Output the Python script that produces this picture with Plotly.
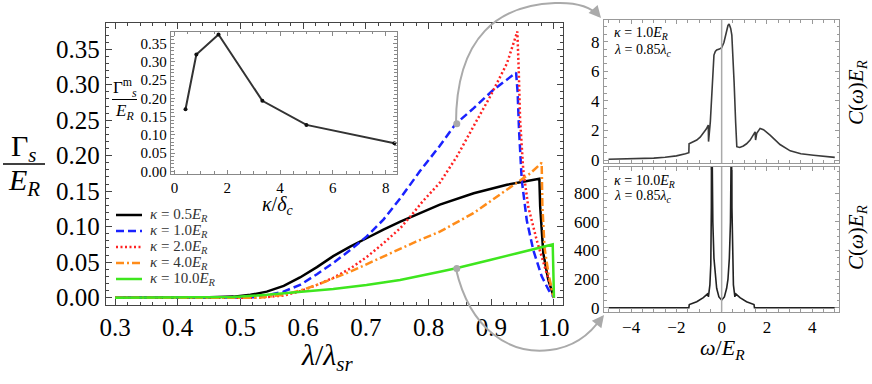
import plotly.graph_objects as go

W, H = 872, 384
SERIF = "Liberation Serif"

# main panel: Gamma_s / E_R against lambda / lambda_sr
lam_k05 = [0.30, 0.40, 0.45, 0.489, 0.516, 0.542, 0.569, 0.595, 0.622, 0.648, 0.675, 0.701, 0.728,
           0.755, 0.787, 0.818, 0.872, 0.925, 0.9767, 0.978, 0.983, 0.991, 1.0]
gam_k05 = [0.0, 0.0, 0.0005, 0.0015, 0.004, 0.0085, 0.0165, 0.0285, 0.043, 0.0585, 0.072, 0.0837, 0.096,
           0.107, 0.119, 0.131, 0.147, 0.159, 0.1676, 0.128, 0.0625, 0.025, 0.0]

lam_k1 = [0.30, 0.50, 0.526, 0.5685, 0.595, 0.622, 0.648, 0.675, 0.701, 0.728, 0.755, 0.786, 0.818,
          0.843, 0.872, 0.903, 0.9396, 0.942, 0.9443, 0.9486, 0.9566, 0.967, 0.9805, 0.992, 1.0]
gam_k1 = [0.0, 0.0, 0.0005, 0.0085, 0.018, 0.033, 0.049, 0.067, 0.086, 0.11, 0.14, 0.178, 0.214,
          0.2446, 0.267, 0.2925, 0.317, 0.29, 0.236, 0.166, 0.109, 0.067, 0.030, 0.010, 0.0]

lam_k2 = [0.30, 0.53, 0.5685, 0.595, 0.622, 0.648, 0.675, 0.701, 0.728, 0.755, 0.773, 0.79, 0.818,
          0.845, 0.8715, 0.898, 0.925, 0.9416, 0.9438, 0.946, 0.951, 0.959, 0.9725, 0.9885, 1.0]
gam_k2 = [0.0, 0.0, 0.003, 0.009, 0.018, 0.028, 0.041, 0.057, 0.0766, 0.098, 0.1165, 0.135, 0.162,
          0.1986, 0.241, 0.283, 0.330, 0.375, 0.321, 0.25, 0.18, 0.128, 0.081, 0.034, 0.0]

lam_k4 = [0.30, 0.53, 0.5685, 0.595, 0.622, 0.648, 0.675, 0.701, 0.728, 0.755, 0.78, 0.818, 0.8715,
          0.9247, 0.962, 0.9804, 0.9815, 0.985, 0.992, 1.0]
gam_k4 = [0.0, 0.0, 0.004, 0.010, 0.018, 0.027, 0.0366, 0.047, 0.058, 0.069, 0.079, 0.093, 0.119,
          0.152, 0.175, 0.190, 0.13, 0.07, 0.03, 0.0]

lam_k10 = [0.30, 0.45, 0.489, 0.542, 0.595, 0.648, 0.701, 0.7545, 0.818, 0.844, 0.898, 0.951, 0.998, 1.0]
gam_k10 = [0.0, 0.0, 0.001, 0.004, 0.008, 0.0122, 0.018, 0.025, 0.0366, 0.0414, 0.053, 0.065, 0.075, 0.0]

series_names = ["<i>κ</i> = 0.5<i>E<sub>R</sub></i>", "<i>κ</i> = 1.0<i>E<sub>R</sub></i>",
                "<i>κ</i> = 2.0<i>E<sub>R</sub></i>", "<i>κ</i> = 4.0<i>E<sub>R</sub></i>",
                "<i>κ</i> = 10.0<i>E<sub>R</sub></i>"]
series_x = [lam_k05, lam_k1, lam_k2, lam_k4, lam_k10]
series_y = [gam_k05, gam_k1, gam_k2, gam_k4, gam_k10]
colors = ["#000000", "#1a22ff", "#ff2222", "#ff8c1a", "#3ee61e"]
dashes = ["solid", "8px,4px", "2px,2.5px", "8px,3px,2px,3px", "solid"]

# points where the spectra on the right are taken (lambda = 0.85)
mark_lam = [0.845, 0.845]
mark_gam = [0.245, 0.041]

# inset: maximum rate against kappa / delta_c
kap_delta = [0.42, 0.83, 1.67, 3.33, 5.0, 8.33]
gam_max = [0.170, 0.320, 0.375, 0.193, 0.127, 0.077]

# right panels: C(omega) E_R
om_top = [-5.0, -4.0, -3.0, -2.5, -2.0, -1.6, -1.45, -1.44, -1.3, -1.1, -0.95, -0.81, -0.68, -0.59,
          -0.58, -0.50, -0.44, -0.38, -0.34, -0.28, -0.22, -0.1, 0.0, 0.1, 0.2, 0.28, 0.33, 0.4, 0.45,
          0.5, 0.55, 0.62, 0.67, 0.8, 0.96, 1.1, 1.26, 1.40, 1.48, 1.50, 1.55, 1.70, 1.85, 2.14, 2.58,
          3.03, 3.5, 4.06, 4.5, 5.0]
c_top = [0.05, 0.08, 0.13, 0.19, 0.28, 0.42, 0.5, 1.1, 1.2, 1.35, 1.55, 1.8, 2.1, 2.37,
         1.25, 2.6, 4.17, 6.0, 7.1, 7.35, 7.44, 7.5, 7.6, 7.95, 8.6, 9.1, 9.2, 8.9, 8.45,
         7.0, 5.3, 2.5, 0.9, 0.85, 0.95, 1.1, 1.35, 1.7, 1.91, 1.35, 1.8, 2.14, 2.05, 1.69, 1.05,
         0.62, 0.42, 0.32, 0.24, 0.18]

om_bot = [-5.0, -2.0, -1.45, -1.43, -1.1, -0.81, -0.60, -0.585, -0.52, -0.48, -0.455, -0.445,
          -0.435, -0.415, -0.39, -0.34, -0.28, -0.22, -0.12, 0.0, 0.12, 0.22, 0.28, 0.34, 0.39,
          0.415, 0.435, 0.445, 0.455, 0.48, 0.52, 0.585, 0.60, 0.81, 1.1, 1.43, 1.45, 2.0, 5.0]
c_bot = [0, 0, 0, 22, 42, 70, 100, 75, 160, 300, 700, 1500,
         1500, 900, 600, 345, 200, 136, 75, 54, 75, 136, 200, 345, 600,
         900, 1500, 1500, 700, 300, 160, 75, 100, 70, 42, 22, 0, 0, 0]


def px(x):
    return x / W


def py(y):
    return 1 - y / H


def frame(color, ticklen=5, size=25):
    return dict(showline=True, linecolor=color, linewidth=1.3, mirror="allticks",
                ticks="inside", ticklen=ticklen, tickcolor=color, tickwidth=1,
                showgrid=False, zeroline=False, automargin=False,
                tickfont=dict(family=SERIF, size=size, color="black"),
                minor=dict(ticks="inside", ticklen=2.5, tickcolor=color, tickwidth=1))


fig = go.Figure()

for xs, ys, c, d in zip(series_x, series_y, colors, dashes):
    fig.add_trace(go.Scatter(x=xs, y=ys, mode="lines", line=dict(color=c, width=2.5, dash=d),
                             xaxis="x", yaxis="y", showlegend=False))

fig.add_trace(go.Scatter(x=mark_lam, y=mark_gam, mode="markers",
                         marker=dict(color="#aaaaaa", size=7), xaxis="x", yaxis="y", showlegend=False))

fig.add_trace(go.Scatter(x=kap_delta, y=gam_max, mode="lines+markers",
                         line=dict(color="#333333", width=2), marker=dict(color="#111111", size=4),
                         xaxis="x2", yaxis="y2", showlegend=False))

fig.add_trace(go.Scatter(x=om_top, y=c_top, mode="lines", line=dict(color="#3a3a3a", width=1.6),
                         xaxis="x3", yaxis="y3", showlegend=False))
fig.add_trace(go.Scatter(x=om_bot, y=c_bot, mode="lines", line=dict(color="#222222", width=1.6),
                         xaxis="x4", yaxis="y4", showlegend=False))

fig.update_layout(
    template="none",
    width=W, height=H,
    margin=dict(l=0, r=0, t=0, b=0, autoexpand=False),
    font=dict(family=SERIF, color="black"),
    paper_bgcolor="white", plot_bgcolor="rgba(0,0,0,0)",
    xaxis=dict(domain=[px(106), px(563)], range=[0.2856, 1.0144], anchor="y",
               tick0=0.3, dtick=0.1, tickformat=".1f", **frame("#444444", 6, 25)),
    yaxis=dict(domain=[py(305), py(23)], range=[-0.0103, 0.3869], anchor="x",
               tick0=0, dtick=0.05, tickformat=".2f", **frame("#444444", 6, 25)),
    xaxis2=dict(domain=[px(171), px(397)], range=[-0.13, 8.43], anchor="y2",
                tick0=0, dtick=2, **frame("#888888", 4, 15)),
    yaxis2=dict(domain=[py(174), py(31.7)], range=[-0.0075, 0.3825], anchor="x2",
                tick0=0, dtick=0.05, tickformat=".2f", **frame("#888888", 4, 15)),
    xaxis3=dict(domain=[px(604), px(839.3)], range=[-5.2, 5.2], anchor="y3",
                tick0=0, dtick=2, showticklabels=False, **frame("#999999", 4, 17)),
    yaxis3=dict(domain=[py(163), py(20)], range=[-0.2, 9.47], anchor="x3",
                tick0=0, dtick=2, **frame("#999999", 4, 17)),
    xaxis4=dict(domain=[px(604), px(839.3)], range=[-5.2, 5.2], anchor="y4",
                tick0=0, dtick=2, **frame("#999999", 4, 17)),
    yaxis4=dict(domain=[py(311.7), py(167)], range=[-28, 984], anchor="x4",
                tick0=0, dtick=200, **frame("#999999", 4, 17)),
)
fig.update_xaxes(minor_dtick=0.02, selector=dict(anchor="y"))
fig.update_yaxes(minor_dtick=0.01, selector=dict(anchor="x"))
fig.update_xaxes(minor_dtick=0.5, selector=dict(anchor="y2"))
fig.update_yaxes(minor_dtick=0.01, selector=dict(anchor="x2"))
fig.update_xaxes(minor_dtick=0.5, selector=dict(anchor="y3"))
fig.update_xaxes(minor_dtick=0.5, selector=dict(anchor="y4"))
fig.update_yaxes(minor_dtick=0.5, selector=dict(anchor="x3"))
fig.update_yaxes(minor_dtick=50, selector=dict(anchor="x4"))

# vertical line at omega = 0
for xr, yr in [("x3", "y3 domain"), ("x4", "y4 domain")]:
    fig.add_shape(type="line", xref=xr, yref=yr, x0=0, x1=0, y0=0, y1=1,
                  line=dict(color="#aaaaaa", width=1.5))

# manual legend
for i, (name, c, d) in enumerate(zip(series_names, colors, dashes)):
    yy = 215 + i * 16
    fig.add_shape(type="line", xref="paper", yref="paper", x0=px(116), x1=px(142), y0=py(yy), y1=py(yy),
                  line=dict(color=c, width=2.5, dash=d))
    fig.add_annotation(text=name, xref="paper", yref="paper", x=px(148), y=py(yy),
                       xanchor="left", yanchor="middle", showarrow=False,
                       font=dict(family=SERIF, size=15, color="#333333"))


def label(text, x, y, size, angle=0, anchor="center"):
    fig.add_annotation(text=text, xref="paper", yref="paper", x=px(x), y=py(y),
                       xanchor=anchor, yanchor="middle", showarrow=False, textangle=angle,
                       font=dict(family=SERIF, size=size, color="black"))


# axis titles
label("Γ<sub><i>s</i></sub>", 24, 148, 30)
label("<i>E<sub>R</sub></i>", 24, 182, 30)
fig.add_shape(type="line", xref="paper", yref="paper", x0=px(3), x1=px(45), y0=py(164), y1=py(164),
              line=dict(color="black", width=1.5))
label("<i>λ</i>/<i>λ<sub>sr</sub></i>", 327, 357, 30)

label("Γ<sup>m</sup><sub><i>s</i></sub>", 125, 88, 17)
label("<i>E<sub>R</sub></i>", 124, 112, 17)
fig.add_shape(type="line", xref="paper", yref="paper", x0=px(112), x1=px(137), y0=py(99.5), y1=py(99.5),
              line=dict(color="black", width=1))
label("<i>κ</i>/<i>δ<sub>c</sub></i>", 277, 205, 20)

label("<i>ω</i>/<i>E<sub>R</sub></i>", 722, 349, 22)
label("<i>C</i>(<i>ω</i>)<i>E<sub>R</sub></i>", 857, 93, 21, -90)
label("<i>C</i>(<i>ω</i>)<i>E<sub>R</sub></i>", 857, 238, 21, -90)

label("<i>κ</i> = 1.0<i>E<sub>R</sub></i>", 612, 33, 14, anchor="left")
label("<i>λ</i> = 0.85<i>λ<sub>c</sub></i>", 612, 50, 14, anchor="left")
label("<i>κ</i> = 10.0<i>E<sub>R</sub></i>", 612, 181, 14, anchor="left")
label("<i>λ</i> = 0.85<i>λ<sub>c</sub></i>", 612, 196, 14, anchor="left")


# grey connecting arrows
def path(pts):
    s = "M %.4f,%.4f" % (px(pts[0][0]), py(pts[0][1]))
    for k in range(1, len(pts), 3):
        s += " C " + " ".join("%.4f,%.4f" % (px(a), py(b)) for a, b in pts[k:k + 3])
    return s


arc_up = [(456, 124), (456, 35), (500, 5), (555, 3), (580, 2), (592, 8), (599, 16)]
arc_down = [(456, 269), (470, 330), (510, 355), (550, 350), (575, 347), (592, 332), (602, 317)]
for arc, (ax, ay) in [(arc_up, (-7, -8)), (arc_down, (-7, 9))]:
    fig.add_shape(type="path", xref="paper", yref="paper", path=path(arc),
                  line=dict(color="#aaaaaa", width=2))
    fig.add_annotation(xref="paper", yref="paper", x=px(arc[-1][0] + 2), y=py(arc[-1][1] + (2 if ay < 0 else -2)),
                       ax=ax, ay=ay, text="", showarrow=True, arrowhead=2, arrowsize=1.2,
                       arrowwidth=2, arrowcolor="#aaaaaa")

# the page body has an 8px margin by default; drop it so the figure sits at 0,0
fig.write_html("out.html", config={"displayModeBar": False},
               post_script="document.body.style.margin='0';")
